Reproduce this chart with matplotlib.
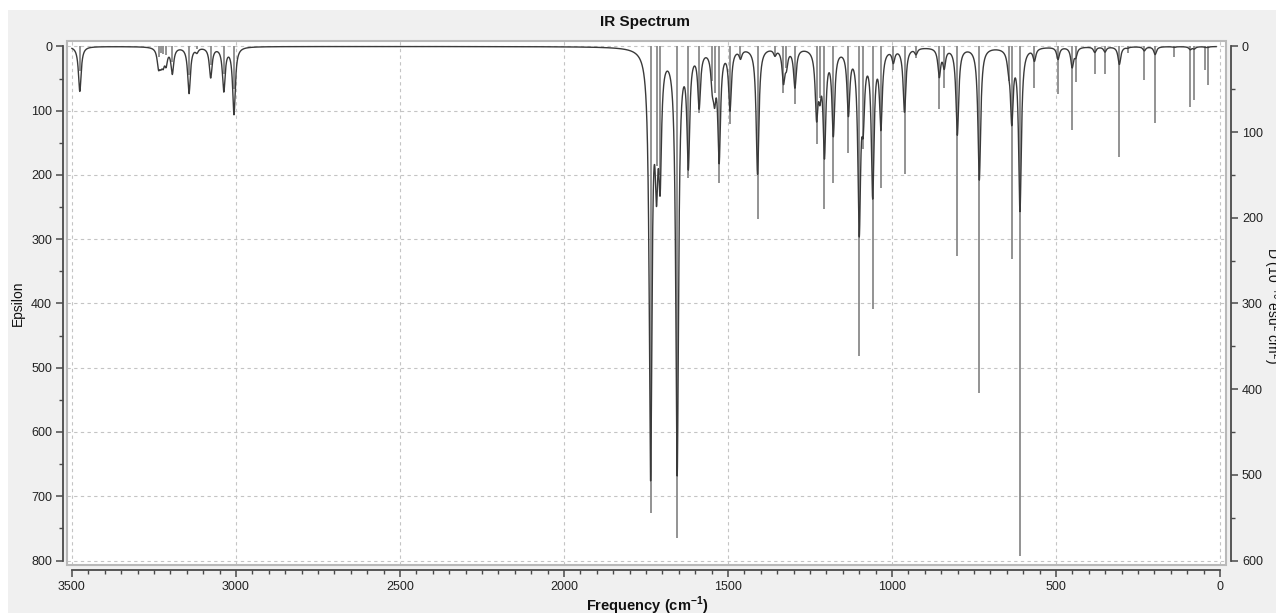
import numpy as np
import matplotlib
matplotlib.use("Agg")
import matplotlib.pyplot as plt
from matplotlib.patches import Rectangle
from matplotlib.ticker import FixedLocator

# ---- data -------------------------------------------------------------
# vibrational frequencies (cm^-1) and dipole strengths D (10^-40 esu^2 cm^2)
freqs = [3476, 3236, 3229, 3222, 3213, 3194, 3143, 3119, 3077, 3037, 3006,
         1736, 1718, 1707, 1655, 1621, 1588, 1548, 1541, 1527, 1494, 1462,
         1410, 1357, 1331, 1322, 1296, 1230, 1220, 1206, 1179, 1133, 1100,
         1088, 1059, 1034, 996, 962, 927, 856, 841, 801, 734, 645, 635, 610,
         566, 494, 451, 440, 382, 351, 307, 282, 231, 198, 140, 91, 79, 45, 38]
dipole = [29, 12, 8, 9, 10, 18, 33, 3, 22, 32, 50,
          545, 140, 150, 574, 154, 78, 40, 54, 159, 90, 13,
          201, 10, 54, 25, 67, 114, 60, 190, 159, 124, 361,
          120, 306, 165, 28, 149, 14, 73, 48, 244, 405, 40, 248, 595,
          48, 55, 97, 42, 32, 32, 129, 8, 39, 89, 12, 71, 62, 28, 45]

HWHM = 5.0             # Lorentzian half-width (cm^-1)
EPS_PER_FD = 6.93e-4   # peak epsilon per (frequency * dipole strength)

x_major = [3500, 3000, 2500, 2000, 1500, 1000, 500, 0]
eps_major = [0, 100, 200, 300, 400, 500, 600, 700, 800]
d_major = [0, 100, 200, 300, 400, 500, 600]

title = "IR Spectrum"
xlabel = r"Frequency (cm$^{\mathbf{-1}}$)"
ylabel = "Epsilon"
ylabel2 = r"D (10$^{-40}$ esu$^{2}$ cm$^{2}$)"

# ---- style --------------------------------------------------------------
plt.rcParams["font.family"] = ["Liberation Sans", "DejaVu Sans"]
plt.rcParams["mathtext.fontset"] = "custom"
plt.rcParams["mathtext.rm"] = "Liberation Sans"
plt.rcParams["mathtext.bf"] = "Liberation Sans:bold"

PT = 72 / 100  # points per pixel at 100 dpi
W, H = 1276, 613
fig = plt.figure(figsize=(W / 100, H / 100), dpi=100, facecolor="#f0f0f0")
# thin white strips along the top and left edges of the window
fig.add_artist(Rectangle((0, 1 - 10 / H), 1, 10 / H, transform=fig.transFigure,
                         facecolor="white", edgecolor="none", zorder=10))
fig.add_artist(Rectangle((0, 0), 8 / W, 1, transform=fig.transFigure,
                         facecolor="white", edgecolor="none", zorder=10))

left, right, top, bottom = 67, 1226, 41, 565
ax = fig.add_axes([left / W, 1 - bottom / H, (right - left) / W, (bottom - top) / H])
ax.set_facecolor("white")
ax2 = ax.twinx()

ax.set_xlim(3515, -18)
ax.set_ylim(807, -8.5)
ax2.set_ylim(807 * 0.75, -8.5 * 0.75)

# spectrum curve: Lorentzian broadening of the sticks (epsilon scale)
grid = np.arange(3500.0, 11.9, -0.25)
f_arr = np.array(freqs, dtype=float)
d_arr = np.array(dipole, dtype=float)
amp = EPS_PER_FD * f_arr * d_arr
eps = (amp[None, :] * HWHM ** 2 /
       ((grid[:, None] - f_arr[None, :]) ** 2 + HWHM ** 2)).sum(axis=1)

# sticks on the D axis, curve on top of them using the epsilon axis scale
ax2.vlines(freqs, 0, dipole, color="#8a8a8a", lw=1.3, zorder=2)
ax2.plot(grid, eps, color="#3a3a3a", lw=1.0, transform=ax.transData, zorder=3)
ax2.set_ylim(807 * 0.75, -8.5 * 0.75)

ax.xaxis.set_major_locator(FixedLocator(x_major))
ax.xaxis.set_minor_locator(FixedLocator([v for v in range(50, 3500, 50) if v % 500]))
ax.yaxis.set_major_locator(FixedLocator(eps_major))
ax.yaxis.set_minor_locator(FixedLocator(list(range(50, 800, 100))))
ax2.yaxis.set_major_locator(FixedLocator(d_major))
ax2.yaxis.set_minor_locator(FixedLocator(list(range(50, 600, 100))))

ax.grid(True, which="major", color="#c4c4c4", lw=0.8, linestyle=(0, (3, 3)))

spine_c = "#4a4a4a"
for s in ["top", "right"]:
    ax.spines[s].set_visible(False)
for s in ["top", "left", "bottom"]:
    ax2.spines[s].set_visible(False)
ax.spines["left"].set_position(("outward", 4 * PT))
ax.spines["left"].set_bounds(0, 800)
ax.spines["bottom"].set_position(("outward", 5 * PT))
ax.spines["bottom"].set_bounds(3500, 0)
ax2.spines["right"].set_position(("outward", 5 * PT))
ax2.spines["right"].set_bounds(0, 600)
for sp in [ax.spines["left"], ax.spines["bottom"], ax2.spines["right"]]:
    sp.set_color(spine_c)
    sp.set_linewidth(1.3)

for a in (ax, ax2):
    a.tick_params(which="major", length=7 * PT, width=1.1, color=spine_c,
                  labelsize=9, labelcolor="#222222", pad=4 * PT)
    a.tick_params(which="minor", length=4 * PT, width=1.0, color=spine_c)

# light frame around plot area
ax2.add_patch(Rectangle((0, 0), 1, 1, transform=ax2.transAxes, fill=False,
                        edgecolor="#b8b8b8", lw=1.5, clip_on=False, zorder=5))

fig.text(645 / W, 1 - 22 / H, title, ha="center", va="center",
         fontsize=11, fontweight="bold", color="#111111")
fig.text(647 / W, 1 - 606 / H, xlabel, ha="center", va="center",
         fontsize=10.5, fontweight="bold", color="#111111")
fig.text(18 / W, 1 - 303 / H, ylabel, ha="center", va="center",
         rotation=90, fontsize=10, color="#111111")
fig.text(1272 / W, 1 - 306 / H, ylabel2, ha="center", va="center",
         rotation=-90, fontsize=10, color="#111111")

fig.savefig("out.png", dpi=100, facecolor=fig.get_facecolor())
